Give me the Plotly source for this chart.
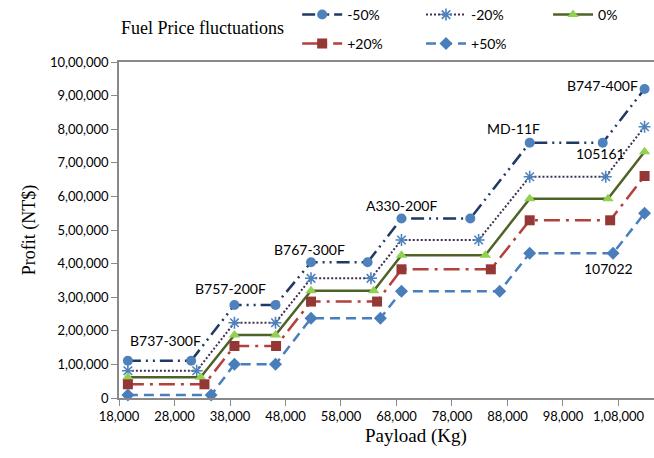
import plotly.graph_objects as go

# ---------------- data ----------------
aircraft = ["B737-300F", "B757-200F", "B767-300F", "A330-200F", "MD-11F", "B747-400F"]
series_names = ["-50%", "-20%", "0%", "+20%", "+50%"]

# payload where each aircraft's step begins (same for all series)
start_payload = [19600, 38800, 52600, 68900, 92000, 112700]

# payload where each flat step ends (per series)
end_payload_m50 = [31000, 46200, 62800, 81300, 105161]
end_payload_m20 = [32000, 46200, 63400, 82800, 105700]
end_payload_0 = [32700, 46200, 63900, 84000, 106100]
end_payload_p20 = [33400, 46300, 64500, 85000, 106500]
end_payload_p50 = [34600, 46200, 65100, 86600, 107022]

# profit level of each aircraft (per series)
profit_m50 = [111000, 276800, 403900, 534200, 759500, 919600]
profit_m20 = [81000, 224100, 356200, 470200, 658600, 807400]
profit_0 = [61600, 187500, 319300, 425000, 593200, 733000]
profit_p20 = [40800, 154800, 287000, 383000, 528900, 660700]
profit_p50 = [8900, 100300, 237200, 317600, 430700, 549700]

x_tickvals = [18000, 28000, 38000, 48000, 58000, 68000, 78000, 88000, 98000, 108000]
x_ticktext = ["18,000", "28,000", "38,000", "48,000", "58,000", "68,000",
              "78,000", "88,000", "98,000", "1,08,000"]
y_tickvals = [0, 100000, 200000, 300000, 400000, 500000, 600000, 700000, 800000, 900000, 1000000]
y_ticktext = ["0", "1,00,000", "2,00,000", "3,00,000", "4,00,000", "5,00,000",
              "6,00,000", "7,00,000", "8,00,000", "9,00,000", "10,00,000"]

ends = [end_payload_m50, end_payload_m20, end_payload_0, end_payload_p20, end_payload_p50]
profits = [profit_m50, profit_m20, profit_0, profit_p20, profit_p50]

# ---------------- styles ----------------
styles = [
    dict(line=dict(color="#1F3864", width=2.5, dash="13px,5px,2px,5px,2px,5px"),
         marker=dict(symbol="circle", size=10, color="#4F81BD")),
    dict(line=dict(color="#3F3151", width=2, dash="2px,2px"),
         marker=dict(symbol="asterisk-open", size=10, color="#4F81BD",
                     line=dict(color="#4F81BD", width=1.6))),
    dict(line=dict(color="#4F6228", width=2.5, dash="solid"),
         marker=dict(symbol="triangle-up", size=10, color="#92D050")),
    dict(line=dict(color="#B3403D", width=2.5, dash="16px,6px,3px,6px"),
         marker=dict(symbol="square", size=10, color="#953735")),
    dict(line=dict(color="#4A7EBB", width=2.5, dash="10px,6px"),
         marker=dict(symbol="diamond", size=10, color="#4A7EBB")),
]
legend_ids = ["legend2", "legend3", "legend4", "legend5", "legend6"]
legend_xy = [(0.333, 1.140), (0.5645, 1.140), (0.802, 1.140),
             (0.333, 1.054), (0.5645, 1.054)]

fig = go.Figure()
for name, end_p, prof, st, lg in zip(series_names, ends, profits, styles, legend_ids):
    xs, ys = [], []
    for i in range(len(aircraft)):
        xs.append(start_payload[i])
        ys.append(prof[i])
        if i < len(end_p):
            xs.append(end_p[i])
            ys.append(prof[i])
    fig.add_trace(go.Scatter(x=xs, y=ys, mode="lines+markers", name=name,
                             line=st["line"], marker=st["marker"],
                             cliponaxis=False, legend=lg, showlegend=True))

label_font = dict(family="Lato", size=14, color="#000000")
ann = []
label_pos = [(26300, 170500), (38000, 326500), (52400, 442600),
             (68900, 574400), (89000, 802700), (105200, 931500)]
for name, (lx, ly) in zip(aircraft, label_pos):
    ann.append(dict(x=lx, y=ly, xref="x", yref="y", text=name, showarrow=False,
                    font=label_font, xanchor="center", yanchor="middle"))
# data labels for end payloads of MD-11F step
ann.append(dict(x=end_payload_m50[4], y=profit_m50[4], xref="x", yref="y",
                text=str(end_payload_m50[4]), showarrow=False, font=label_font,
                xanchor="center", yanchor="middle", xshift=-2, yshift=-11))
ann.append(dict(x=end_payload_p50[4], y=profit_p50[4], xref="x", yref="y",
                text=str(end_payload_p50[4]), showarrow=False, font=label_font,
                xanchor="center", yanchor="middle", xshift=-5, yshift=-15))
ann.append(dict(x=0.157, y=1.101, xref="paper", yref="paper",
                text="Fuel Price fluctuations", showarrow=False,
                font=dict(family="Liberation Serif", size=18, color="#000000"),
                xanchor="center", yanchor="middle"))
# x-axis title (centred on the original, wider plot area)
ann.append(dict(x=(416 - 119) / 535, y=(398 - 436) / 336, xref="paper", yref="paper",
                text="Payload (Kg)", showarrow=False,
                font=dict(family="Liberation Serif", size=19, color="#000000"),
                xanchor="center", yanchor="middle"))

axis_col = "#898989"
layout_legends = {}
for lg, (lx, ly) in zip(legend_ids, legend_xy):
    layout_legends[lg] = dict(orientation="h", x=lx, xanchor="left", y=ly, yanchor="middle",
                              itemwidth=40, visible=True,
                              font=dict(family="Lato", size=14, color="#000000"),
                              bgcolor="rgba(0,0,0,0)")

fig.update_layout(
    width=654, height=458,
    showlegend=True,
    margin=dict(l=119, r=0, t=62, b=60, autoexpand=False),
    paper_bgcolor="white", plot_bgcolor="white",
    font=dict(family="Lato", size=13, color="#000000"),
    annotations=ann,
    **layout_legends,
    xaxis=dict(range=[18000, 114400], tickvals=x_tickvals, ticktext=x_ticktext,
               showgrid=False, zeroline=False, showline=True, linecolor=axis_col,
               linewidth=1.5, mirror=True, ticks="outside", ticklen=6, tickcolor=axis_col,
               tickfont=dict(family="Lato", size=13)),
    yaxis=dict(range=[0, 1000000], tickvals=y_tickvals, ticktext=y_ticktext,
               showgrid=False, zeroline=False, showline=True, linecolor=axis_col,
               linewidth=1.5, ticks="outside", ticklen=6, tickcolor=axis_col,
               tickfont=dict(family="Lato", size=13),
               title=dict(text="Profit (NT$)", standoff=10,
                          font=dict(family="Liberation Serif", size=18))),
)

fig.write_html("out.html", config={"displayModeBar": False},
               post_script="document.body.style.margin='0px';")
